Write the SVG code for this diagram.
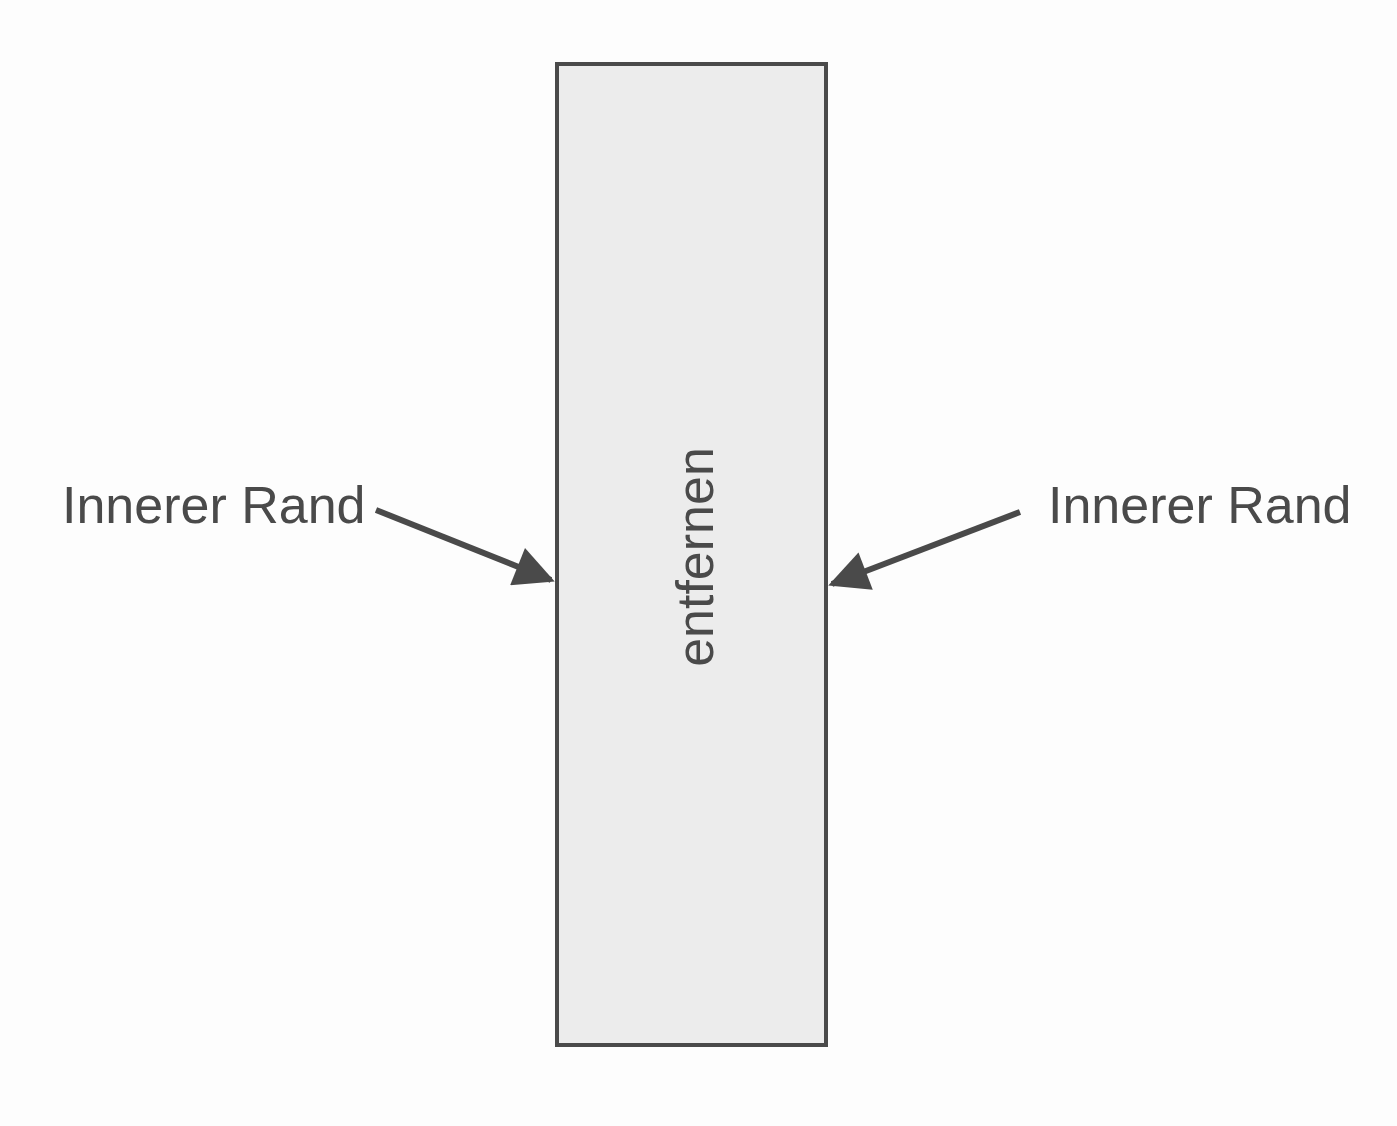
<svg xmlns="http://www.w3.org/2000/svg" width="1397" height="1126" viewBox="0 0 1397 1126">
<style>
text{font-family:"Liberation Sans",Arial,sans-serif;fill:#4a4a4a;font-size:52px}
.c{stroke:#4a4a4a;stroke-width:6;fill:none}
</style>
<defs><marker id="a" markerWidth="10" markerHeight="10" refX="8" refY="5" orient="auto" markerUnits="userSpaceOnUse" viewBox="0 0 10 10"><path d="M0,0L10,5L0,10z" fill="#4a4a4a"/></marker>
<marker id="m" viewBox="0 0 10 10" refX="9" refY="5" markerWidth="45" markerHeight="40" markerUnits="userSpaceOnUse" orient="auto"><path d="M0,0L10,5L0,10z" fill="#4a4a4a"/></marker></defs>
<rect width="1397" height="1126" fill="#fdfdfd"/>
<g id="box"><rect x="557" y="64" width="269" height="981" fill="#ececec" stroke="#4a4a4a" stroke-width="4"/>
<text transform="translate(713,557) rotate(-90)" text-anchor="middle">entfernen</text></g>
<g id="l1"><text x="62" y="523">Innerer Rand</text></g>
<g id="l2"><text x="1048" y="523">Innerer Rand</text></g>
<g id="connectors"><line class="c" x1="376" y1="510" x2="551" y2="580" marker-end="url(#m)"/>
<line class="c" x1="1020" y1="512" x2="832" y2="584" marker-end="url(#m)"/></g>
</svg>
